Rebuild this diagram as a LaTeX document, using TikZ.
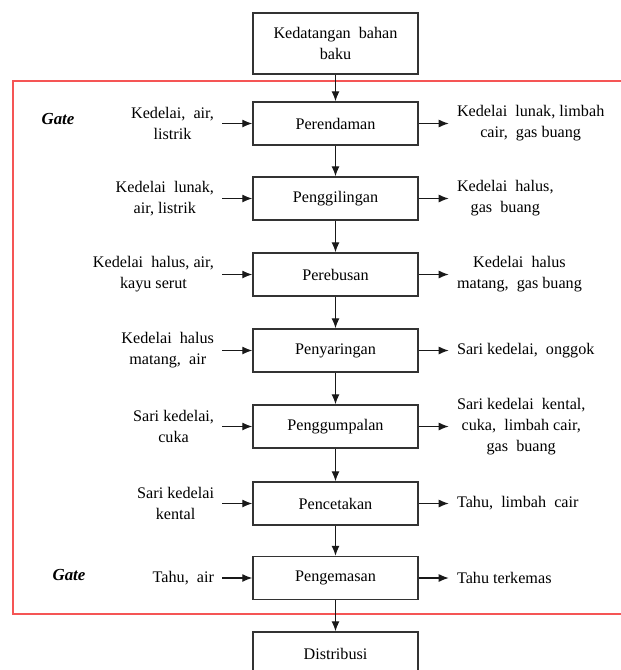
\documentclass[tikz,border=0pt]{standalone}
\usepackage{fontspec}
\setmainfont{Liberation Serif}
\usepackage{xcolor}
\usepackage{tikz}
\usetikzlibrary{arrows.meta, positioning}
\definecolor{gatered}{RGB}{245,85,85}

\begin{document}
\begin{tikzpicture}[
        x=0.025cm, y=-0.025cm,
        proc/.style = {rectangle, draw=black!80, line width=1pt, minimum width=4.125cm, minimum height=1.075cm, align=center, inner sep=2pt, font=\fontsize{11.5}{15}\selectfont},
        side/.style = {align=center, inner xsep=0.2cm, inner ysep=0pt, font=\fontsize{11.5}{15}\selectfont},
        gate/.style = {font=\fontsize{12}{14}\selectfont\bfseries\itshape},
        flow/.style = {-{Latex[length=2.5mm, width=2mm]}, line width=0.9pt, draw=black!90},
        node distance = 0.75cm
    ]
    \useasboundingbox (0,0) rectangle (620,670);

    % system boundary
    \draw[gatered, line width=1.2pt] (622,81) -| (13,614) -- (622,614);
    \node [gate] (gateIn) at (58,119) {Gate};
    \node [gate] (gateOut) at (69,575) {Gate};

    % main process column
    \node [proc, minimum height=1.525cm] (datang) at (335.5,43.5) {Kedatangan\ \ bahan\\baku};
    \node [proc] (rendam) at (335.5,123.5) {Perendaman};
    \node [proc] (giling) at (335.5,198.5) {Penggilingan};
    \node [proc] (rebus) at (335.5,274.5) {Perebusan};
    \node [proc] (saring) at (335.5,350.5) {Penyaringan};
    \node [proc] (gumpal) at (335.5,426.5) {Penggumpalan};
    \node [proc] (cetak) at (335.5,503.5) {Pencetakan};
    \node [proc] (kemas) at (335.5,578) {Pengemasan};
    \node [proc] (distribusi) at (335.5,653.5) {Distribusi};

    \draw[flow] (datang) -- (rendam);
    \draw[flow] (rendam) -- (giling);
    \draw[flow] (giling) -- (rebus);
    \draw[flow] (rebus) -- (saring);
    \draw[flow] (saring) -- (gumpal);
    \draw[flow] (gumpal) -- (cetak);
    \draw[flow] (cetak) -- (kemas);
    \draw[flow] (kemas) -- (distribusi);

    % inputs
    \node [side, left=of rendam] (rendamIn) {Kedelai,\ \ air,\\listrik};
    \node [side, left=of giling] (gilingIn) {Kedelai\ \ lunak,\\air, listrik};
    \node [side, left=of rebus] (rebusIn) {Kedelai\ \ halus, air,\\kayu serut};
    \node [side, left=of saring] (saringIn) {Kedelai\ \ halus\\matang,\ \ air};
    \node [side, left=of gumpal] (gumpalIn) {Sari kedelai,\\cuka};
    \node [side, left=of cetak] (cetakIn) {Sari kedelai\\kental};
    \node [side, left=of kemas] (kemasIn) {Tahu,\ \ air};

    % outputs
    \node [side, right=of rendam] (rendamOut) {Kedelai\ \ lunak, limbah\\cair,\ \ gas buang};
    \node [side, right=of giling] (gilingOut) {Kedelai\ \ halus,\\gas\ \ buang};
    \node [side, right=of rebus] (rebusOut) {Kedelai\ \ halus\\matang,\ \ gas buang};
    \node [side, right=of saring] (saringOut) {Sari kedelai,\ \ onggok};
    \node [side, right=of gumpal] (gumpalOut) {Sari kedelai\ \ kental,\\cuka,\ \ limbah cair,\\gas\ \ buang};
    \node [side, right=of cetak] (cetakOut) {Tahu,\ \ limbah\ \ cair};
    \node [side, right=of kemas] (kemasOut) {Tahu terkemas};

    \draw[flow] (rendamIn) -- (rendam);
    \draw[flow] (gilingIn) -- (giling);
    \draw[flow] (rebusIn) -- (rebus);
    \draw[flow] (saringIn) -- (saring);
    \draw[flow] (gumpalIn) -- (gumpal);
    \draw[flow] (cetakIn) -- (cetak);
    \draw[flow] (kemasIn) -- (kemas);

    \draw[flow] (rendam) -- (rendamOut);
    \draw[flow] (giling) -- (gilingOut);
    \draw[flow] (rebus) -- (rebusOut);
    \draw[flow] (saring) -- (saringOut);
    \draw[flow] (gumpal) -- (gumpalOut);
    \draw[flow] (cetak) -- (cetakOut);
    \draw[flow] (kemas) -- (kemasOut);

\end{tikzpicture}
\end{document}
